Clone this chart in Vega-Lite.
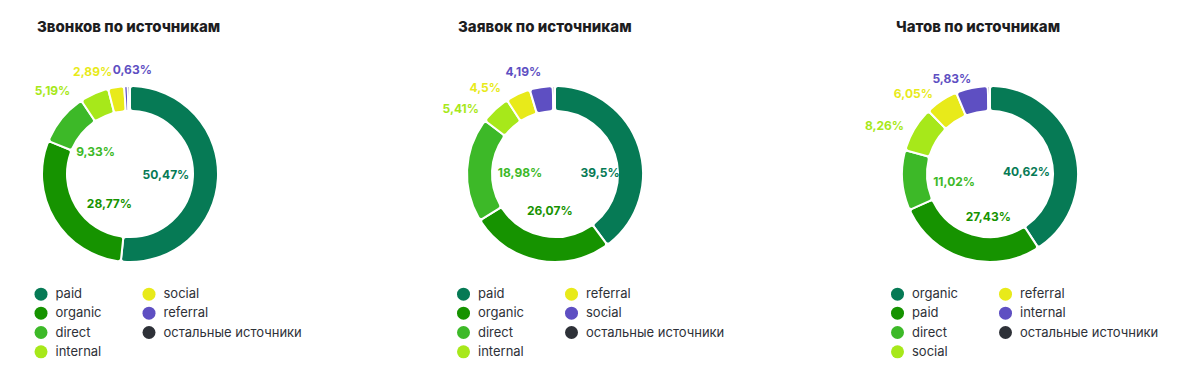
{
  "$schema": "https://vega.github.io/schema/vega-lite/v6.json",
  "padding": {"left": 10, "top": 19, "right": 5, "bottom": 5},
  "background": "white",
  "config": {
    "view": {"stroke": null},
    "font": "Inter",
    "concat": {"spacing": 100},
    "legend": {"padding": 0},
    "title": {"anchor": "start", "frame": "group", "fontSize": 15, "fontWeight": 800, "color": "#1d1d1f", "offset": 9.5},
    "text": {"fontWeight": "bold", "fontSize": 12, "baseline": "middle"}
  },
  "bounds": "flush",
  "datasets": {
    "calls": [
      {"rank": 1, "source": "paid", "value": 50.47, "label": "50,47%"},
      {"rank": 2, "source": "organic", "value": 28.77, "label": "28,77%"},
      {"rank": 3, "source": "direct", "value": 9.33, "label": "9,33%"},
      {"rank": 4, "source": "internal", "value": 5.19, "label": "5,19%"},
      {"rank": 5, "source": "social", "value": 2.89, "label": "2,89%"},
      {"rank": 6, "source": "referral", "value": 0.63, "label": "0,63%"},
      {"rank": 7, "source": "остальные источники", "value": 0.4, "label": ""}
    ],
    "apps": [
      {"rank": 1, "source": "paid", "value": 39.5, "label": "39,5%"},
      {"rank": 2, "source": "organic", "value": 26.07, "label": "26,07%"},
      {"rank": 3, "source": "direct", "value": 18.98, "label": "18,98%"},
      {"rank": 4, "source": "internal", "value": 5.41, "label": "5,41%"},
      {"rank": 5, "source": "referral", "value": 4.5, "label": "4,5%"},
      {"rank": 6, "source": "social", "value": 4.19, "label": "4,19%"},
      {"rank": 7, "source": "остальные источники", "value": 0.4, "label": ""}
    ],
    "chats": [
      {"rank": 1, "source": "organic", "value": 40.62, "label": "40,62%"},
      {"rank": 2, "source": "paid", "value": 27.43, "label": "27,43%"},
      {"rank": 3, "source": "direct", "value": 11.02, "label": "11,02%"},
      {"rank": 4, "source": "social", "value": 8.26, "label": "8,26%"},
      {"rank": 5, "source": "referral", "value": 6.05, "label": "6,05%"},
      {"rank": 6, "source": "internal", "value": 5.83, "label": "5,83%"},
      {"rank": 7, "source": "остальные источники", "value": 0.4, "label": ""}
    ]
  },
  "resolve": {"scale": {"color": "independent", "theta": "independent"}, "legend": {"color": "independent"}},
  "hconcat": [
    {
      "width": 240, "height": 260,
      "title": {"text": "Звонков по источникам", "dx": 27},
      "data": {"name": "calls"},
      "encoding": {
        "theta": {"field": "value", "type": "quantitative", "stack": true},
        "order": {"field": "rank", "type": "quantitative"},
        "color": {
          "field": "source", "type": "nominal",
          "scale": {
            "domain": ["paid", "organic", "direct", "internal", "social", "referral", "остальные источники"],
            "range": ["#067A55", "#169300", "#3DB928", "#A7E81A", "#E8EA1A", "#5E4FC2", "#2E3138"]
          },
          "legend": {"orient": "none", "legendX": 24.5, "legendY": 243.4, "columns": 2, "columnPadding": 40, "rowPadding": 5.3, "symbolType": "circle", "symbolSize": 169, "symbolStrokeWidth": 0, "labelFontSize": 13, "labelOffset": 8, "labelColor": "#2E3138", "title": null, "labelLimit": 300}
        }
      },
      "layer": [
        {"mark": {"type": "arc", "outerRadius": 88, "innerRadius": 63, "stroke": "white", "strokeWidth": 2, "cornerRadius": 3}},
        {"mark": {"type": "text", "radius": 38, "align": "center", "dx": -2, "dy": -1},
         "encoding": {"text": {"condition": {"test": "datum.rank == 1", "field": "label"}, "value": ""}}},
        {"mark": {"type": "text", "radius": 38, "align": "center", "dx": 12, "dy": 10},
         "encoding": {"text": {"condition": {"test": "datum.rank == 2", "field": "label"}, "value": ""}}},
        {"mark": {"type": "text", "radius": 38, "align": "center", "dx": -5, "dy": 2},
         "encoding": {"text": {"condition": {"test": "datum.rank == 3", "field": "label"}, "value": ""}}},
        {"mark": {"type": "text", "radius": 100, "align": "right", "dx": -19, "dy": 8},
         "encoding": {"text": {"condition": {"test": "datum.rank == 4", "field": "label"}, "value": ""}}},
        {"mark": {"type": "text", "radius": 100, "align": "right", "dx": -2, "dy": -3},
         "encoding": {"text": {"condition": {"test": "datum.rank == 5", "field": "label"}, "value": ""}}},
        {"mark": {"type": "text", "radius": 103, "align": "center", "dx": 7, "dy": -1},
         "encoding": {"text": {"condition": {"test": "datum.rank == 6", "field": "label"}, "value": ""}}}
      ]
    },
    {
      "width": 410, "height": 260,
      "title": {"text": "Заявок по источникам", "dx": 108},
      "data": {"name": "apps"},
      "encoding": {
        "theta": {"field": "value", "type": "quantitative", "stack": true},
        "order": {"field": "rank", "type": "quantitative"},
        "color": {
          "field": "source", "type": "nominal",
          "scale": {
            "domain": ["paid", "organic", "direct", "internal", "referral", "social", "остальные источники"],
            "range": ["#067A55", "#169300", "#3DB928", "#A7E81A", "#E8EA1A", "#5E4FC2", "#2E3138"]
          },
          "legend": {"orient": "none", "legendX": 107, "legendY": 243.4, "columns": 2, "columnPadding": 40, "rowPadding": 5.3, "symbolType": "circle", "symbolSize": 169, "symbolStrokeWidth": 0, "labelFontSize": 13, "labelOffset": 8, "labelColor": "#2E3138", "title": null, "labelLimit": 300}
        }
      },
      "layer": [
        {"mark": {"type": "arc", "outerRadius": 88, "innerRadius": 63, "stroke": "white", "strokeWidth": 2, "cornerRadius": 3}},
        {"mark": {"type": "text", "radius": 38, "align": "center", "dx": 9, "dy": 11},
         "encoding": {"text": {"condition": {"test": "datum.rank == 1", "field": "label"}, "value": ""}}},
        {"mark": {"type": "text", "radius": 38, "align": "center", "dx": 2, "dy": 0},
         "encoding": {"text": {"condition": {"test": "datum.rank == 2", "field": "label"}, "value": ""}}},
        {"mark": {"type": "text", "radius": 38, "align": "center", "dx": 3, "dy": 1},
         "encoding": {"text": {"condition": {"test": "datum.rank == 3", "field": "label"}, "value": ""}}},
        {"mark": {"type": "text", "radius": 100, "align": "right", "dx": -8, "dy": 8},
         "encoding": {"text": {"condition": {"test": "datum.rank == 4", "field": "label"}, "value": ""}}},
        {"mark": {"type": "text", "radius": 100, "align": "right", "dx": -12, "dy": 5},
         "encoding": {"text": {"condition": {"test": "datum.rank == 5", "field": "label"}, "value": ""}}},
        {"mark": {"type": "text", "radius": 100, "align": "right", "dx": 2, "dy": -3},
         "encoding": {"text": {"condition": {"test": "datum.rank == 6", "field": "label"}, "value": ""}}}
      ]
    },
    {
      "width": 260, "height": 260,
      "title": {"text": "Чатов по источникам", "dx": 36},
      "data": {"name": "chats"},
      "encoding": {
        "theta": {"field": "value", "type": "quantitative", "stack": true},
        "order": {"field": "rank", "type": "quantitative"},
        "color": {
          "field": "source", "type": "nominal",
          "scale": {
            "domain": ["organic", "paid", "direct", "social", "referral", "internal", "остальные источники"],
            "range": ["#067A55", "#169300", "#3DB928", "#A7E81A", "#E8EA1A", "#5E4FC2", "#2E3138"]
          },
          "legend": {"orient": "none", "legendX": 31, "legendY": 243.4, "columns": 2, "columnPadding": 40, "rowPadding": 5.3, "symbolType": "circle", "symbolSize": 169, "symbolStrokeWidth": 0, "labelFontSize": 13, "labelOffset": 8, "labelColor": "#2E3138", "title": null, "labelLimit": 300}
        }
      },
      "layer": [
        {"mark": {"type": "arc", "outerRadius": 88, "innerRadius": 63, "stroke": "white", "strokeWidth": 2, "cornerRadius": 3}},
        {"mark": {"type": "text", "radius": 38, "align": "center", "dx": 0, "dy": 9},
         "encoding": {"text": {"condition": {"test": "datum.rank == 1", "field": "label"}, "value": ""}}},
        {"mark": {"type": "text", "radius": 38, "align": "center", "dx": 9, "dy": 7},
         "encoding": {"text": {"condition": {"test": "datum.rank == 2", "field": "label"}, "value": ""}}},
        {"mark": {"type": "text", "radius": 38, "align": "center", "dx": 2, "dy": 5},
         "encoding": {"text": {"condition": {"test": "datum.rank == 3", "field": "label"}, "value": ""}}},
        {"mark": {"type": "text", "radius": 100, "align": "right", "dx": 0, "dy": 3},
         "encoding": {"text": {"condition": {"test": "datum.rank == 4", "field": "label"}, "value": ""}}},
        {"mark": {"type": "text", "radius": 100, "align": "right", "dx": -2, "dy": 3},
         "encoding": {"text": {"condition": {"test": "datum.rank == 5", "field": "label"}, "value": ""}}},
        {"mark": {"type": "text", "radius": 100, "align": "right", "dx": 2, "dy": 3},
         "encoding": {"text": {"condition": {"test": "datum.rank == 6", "field": "label"}, "value": ""}}}
      ]
    }
  ]
}
